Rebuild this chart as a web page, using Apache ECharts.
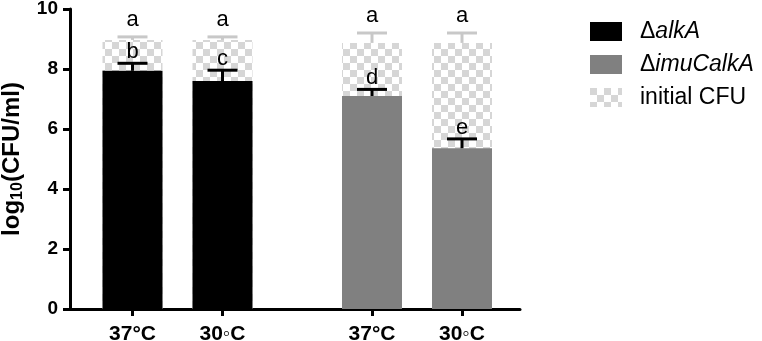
<!DOCTYPE html>
<html>
<head>
<meta charset="utf-8">
<script src="https://cdn.jsdelivr.net/npm/echarts@6/dist/echarts.min.js"></script>
<style>
  html, body { margin: 0; padding: 0; background: #fff; }
  #chart { width: 762px; height: 341px; }
</style>
</head>
<body>
<div id="chart"></div>
<script>
// 数据
var tempLabels = ["37°C", "30◦C", "37°C", "30◦C"];
var groupPos = [6.25, 15.25, 30.2, 39.2]; // x 轴上的位置

var initialCFU = [8.97, 8.97, 8.87, 8.87];
var initialTop = [9.07, 9.07, 9.2, 9.2];
var initialLetters = ["a", "a", "a", "a"];

var alkA = [7.94, 7.6];
var alkATop = [8.19, 7.96];
var imuCalkA = [7.1, 5.36];
var imuCalkATop = [7.32, 5.67];
var strainLetters = ["b", "c", "d", "e"];

var yTicks = [0, 2, 4, 6, 8, 10];

var FONT = "Liberation Sans";
var myChart = echarts.init(document.getElementById("chart"));

// 棋盘格图案
function checker(size, c) {
  var cv = document.createElement("canvas");
  cv.width = size * 2;
  cv.height = size * 2;
  var ctx = cv.getContext("2d");
  ctx.fillStyle = "#fff";
  ctx.fillRect(0, 0, size * 2, size * 2);
  ctx.fillStyle = c;
  ctx.fillRect(0, 0, size, size);
  ctx.fillRect(size, size, size, size);
  return { image: cv, repeat: "repeat" };
}

function pairs(xs, ys) {
  return ys.map(function (v, i) { return [xs[i], v]; });
}

var strainMean = alkA.concat(imuCalkA);
var strainTop = alkATop.concat(imuCalkATop);

// 误差线 + 字母标注
function errRender(tops, means, letters, color, gap) {
  return function (params, api) {
    var i = params.dataIndex;
    var x = groupPos[i];
    var p0 = api.coord([x, means[i]]);
    var p1 = api.coord([x, tops[i]]);
    return {
      type: "group",
      children: [
        { type: "line", shape: { x1: p0[0], y1: p0[1], x2: p1[0], y2: p1[1] }, style: { stroke: color, lineWidth: 3 } },
        { type: "line", shape: { x1: p1[0] - 15, y1: p1[1], x2: p1[0] + 15, y2: p1[1] }, style: { stroke: color, lineWidth: 3 } },
        {
          type: "text", x: p1[0], y: p1[1] - gap,
          style: { text: letters[i], fontSize: 22, fontFamily: FONT, fill: "#000", align: "center", verticalAlign: "bottom" }
        }
      ]
    };
  };
}

var option = {
  animation: false,
  backgroundColor: "#fff",
  grid: { left: 70, right: 242, top: 9, bottom: 32, outerBoundsMode: "none" },
  legend: {
    left: 590,
    top: 20,
    orient: "vertical",
    icon: "rect",
    itemWidth: 32,
    itemHeight: 19,
    itemGap: 10,
    padding: 0,
    data: ["ΔalkA", "ΔimuCalkA", "initial CFU"],
    formatter: function (name) {
      if (name === "initial CFU") return "{n|" + name + "}";
      return "{n|Δ}{i|" + name.slice(1) + "}";
    },
    textStyle: {
      padding: [0, 0, 0, 13],
      rich: {
        n: { fontSize: 23, fontFamily: FONT, color: "#000", lineHeight: 26 },
        i: { fontSize: 23, fontFamily: FONT, color: "#000", fontStyle: "italic", lineHeight: 26 }
      }
    }
  },
  xAxis: {
    type: "value",
    min: 0,
    max: 45,
    splitLine: { show: false },
    axisLine: { lineStyle: { color: "#000", width: 3 } },
    axisTick: { length: 7, lineStyle: { color: "#000", width: 3 }, customValues: groupPos },
    axisLabel: {
      customValues: groupPos,
      margin: 15,
      color: "#000",
      fontSize: 21,
      fontWeight: "bold",
      fontFamily: FONT,
      formatter: function (v) {
        var idx = 0;
        for (var i = 0; i < groupPos.length; i++) {
          if (Math.abs(groupPos[i] - v) < Math.abs(groupPos[idx] - v)) idx = i;
        }
        return tempLabels[idx];
      }
    }
  },
  yAxis: {
    type: "value",
    min: yTicks[0],
    max: yTicks[yTicks.length - 1],
    interval: 2,
    splitLine: { show: false },
    axisLine: { show: true, lineStyle: { color: "#000", width: 3 } },
    axisTick: { show: true, length: 7, lineStyle: { color: "#000", width: 3 } },
    axisLabel: { margin: 12, color: "#000", fontSize: 19, fontWeight: "bold", fontFamily: FONT },
    name: "{a|log}{s|10}{a|(CFU/ml)}",
    nameLocation: "middle",
    nameGap: 43,
    nameTextStyle: {
      rich: {
        a: { fontSize: 24, fontWeight: "bold", fontFamily: FONT, color: "#000" },
        s: { fontSize: 16, fontWeight: "bold", fontFamily: FONT, color: "#000", padding: [12, 0, 0, 0] }
      }
    }
  },
  series: [
    {
      name: "initial CFU",
      type: "bar",
      barWidth: 60,
      barGap: "-100%",
      z: 1,
      itemStyle: { color: checker(7, "#d6d6d6") },
      data: pairs(groupPos, initialCFU)
    },
    {
      name: "ΔalkA",
      type: "bar",
      barWidth: 60,
      barGap: "-100%",
      z: 2,
      itemStyle: { color: "#000" },
      data: pairs(groupPos.slice(0, 2), alkA)
    },
    {
      name: "ΔimuCalkA",
      type: "bar",
      barWidth: 60,
      barGap: "-100%",
      z: 2,
      itemStyle: { color: "#808080" },
      data: pairs(groupPos.slice(2), imuCalkA)
    },
    {
      type: "custom",
      z: 3,
      renderItem: errRender(initialTop, initialCFU, initialLetters, "#c8c8c8", 6),
      data: pairs(groupPos, initialTop)
    },
    {
      type: "custom",
      z: 4,
      renderItem: errRender(strainTop, strainMean, strainLetters, "#000", 0),
      data: pairs(groupPos, strainTop)
    }
  ]
};

myChart.setOption(option);
</script>
</body>
</html>
